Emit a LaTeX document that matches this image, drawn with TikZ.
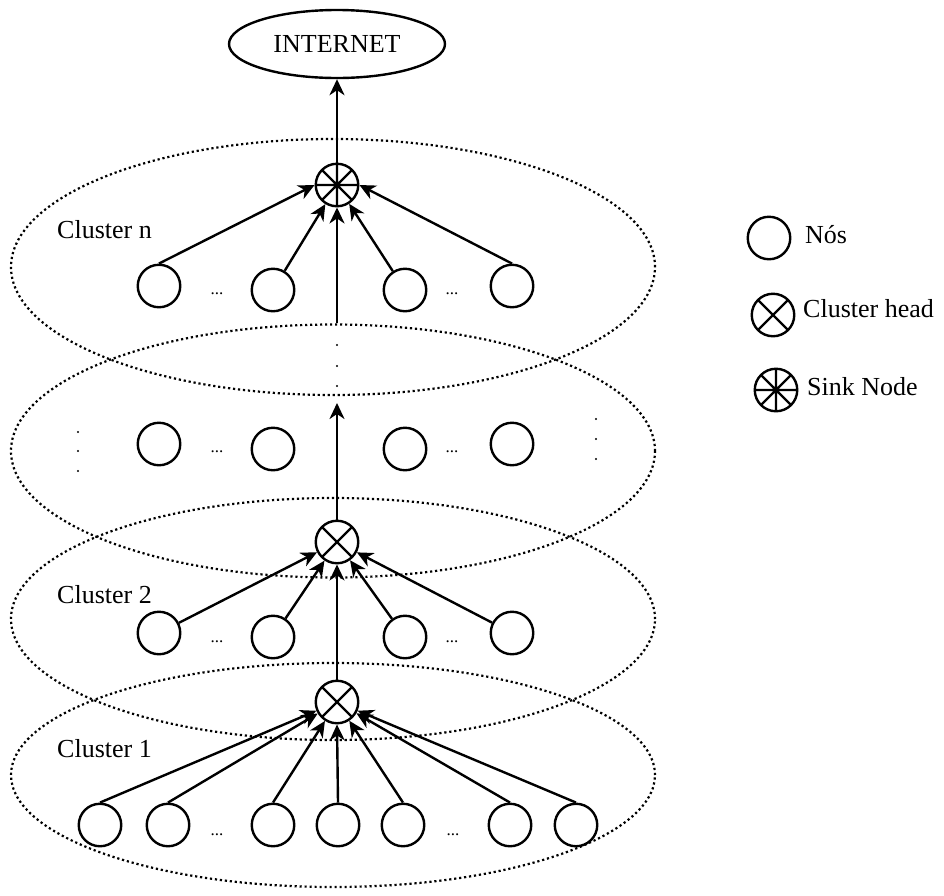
\documentclass[tikz,border=0pt]{standalone}
\usepackage{fontspec}
\setmainfont{Liberation Serif}
\usetikzlibrary{arrows.meta,shapes.geometric}
\begin{document}
\begin{tikzpicture}[x=1pt,y=-1pt,
  lbl/.style={inner sep=0pt, font=\fontsize{26}{30}\selectfont},
  nos/.style={circle, draw, line width=2.4pt, fill=white, minimum size=42.5pt, inner sep=0pt},
  chead/.style={nos, path picture={\draw[line width=2.4pt]
     (path picture bounding box.north west) -- (path picture bounding box.south east)
     (path picture bounding box.south west) -- (path picture bounding box.north east);}},
  sinknode/.style={nos, path picture={\draw[line width=2.4pt]
     (path picture bounding box.north west) -- (path picture bounding box.south east)
     (path picture bounding box.south west) -- (path picture bounding box.north east)
     (path picture bounding box.north) -- (path picture bounding box.south)
     (path picture bounding box.west) -- (path picture bounding box.east);}},
  cluster/.style={ellipse, draw, line width=2.2pt, dash pattern=on 2.2pt off 2.8pt,
     minimum width=644pt, inner sep=0pt},
  arr/.style={line width=2.4pt, -{Stealth[length=16pt,width=15pt,inset=5pt]}},
  ellip/.style={inner sep=0pt, font=\fontsize{17}{18}\selectfont},
]
\useasboundingbox (0,0) rectangle (944,895);

% cluster ellipses
\node[cluster, minimum height=256pt] (eN) at (333,267) {};
\node[cluster, minimum height=253pt] (eM) at (333,451) {};
\node[cluster, minimum height=242pt] (e2) at (333,619) {};
\node[cluster, minimum height=224pt] (e1) at (333,775) {};

% internet
\node[ellipse, draw, line width=2.4pt, minimum width=216pt, minimum height=68pt, inner sep=0pt,
      font=\fontsize{26}{30}\selectfont] (inet) at (337,44) {INTERNET};

% heads
\node[sinknode] (S) at (337,185) {};
\node[chead] (h2) at (337,542) {};
\node[chead] (h1) at (337,702) {};

% cluster n nodes
\node[nos] (n1) at (159,286) {};
\node[nos] (n2) at (273,290) {};
\node[nos] (n3) at (405,290) {};
\node[nos] (n4) at (512,286) {};
% middle nodes
\node[nos] (m1) at (159,444) {};
\node[nos] (m2) at (273,449) {};
\node[nos] (m3) at (405,449) {};
\node[nos] (m4) at (512,444) {};
% cluster 2 nodes
\node[nos] (b1) at (159,633) {};
\node[nos] (b2) at (273,637) {};
\node[nos] (b3) at (405,637) {};
\node[nos] (b4) at (512,633) {};
% cluster 1 nodes
\node[nos] (a1) at (100,825) {};
\node[nos] (a2) at (168,825) {};
\node[nos] (a3) at (273,825) {};
\node[nos] (a4) at (338,825) {};
\node[nos] (a5) at (403,825) {};
\node[nos] (a6) at (510,825) {};
\node[nos] (a7) at (576,825) {};

% ellipsis dots
\node[ellip, anchor=base] at (217,294) {...};
\node[ellip, anchor=base] at (452,294) {...};
\node[ellip, anchor=base] at (217,452) {...};
\node[ellip, anchor=base] at (452,452) {...};
\node[ellip, anchor=base] at (217,642) {...};
\node[ellip, anchor=base] at (452,642) {...};
\node[ellip, anchor=base] at (217,835) {...};
\node[ellip, anchor=base] at (453,835) {...};

% vertical dots
\foreach \yy in {345,366,386} \fill (337,\yy) circle (1.2pt);
\foreach \yy in {432,451,471} \fill (78,\yy) circle (1.2pt);
\foreach \yy in {419,439,459} \fill (596,\yy) circle (1.2pt);

% labels
\node[lbl, anchor=base west] at (57,238) {Cluster n};
\node[lbl, anchor=base west] at (57,603) {Cluster 2};
\node[lbl, anchor=base west] at (57,757) {Cluster 1};

% connectors
\coordinate (cNbot) at (337,323);
\coordinate (c2top) at (337,403);
\draw[arr] (S.north) -- (inet.south);
\draw[arr] (cNbot) -- (S.south);
\draw[arr] (h2.north) -- (c2top);
\draw[arr] (h1.north) -- (h2.south);

\draw[arr] (n1.north) -- (S.west);
\draw[arr] (n2) -- (S);
\draw[arr] (n3) -- (S);
\draw[arr] (n4.north) -- (S.east);

\draw[arr] (b1) -- (h2);
\draw[arr] (b2) -- (h2);
\draw[arr] (b3) -- (h2);
\draw[arr] (b4) -- (h2);

\draw[arr] (a1.north) -- (h1);
\draw[arr] (a2.north) -- (h1);
\draw[arr] (a3.north) -- (h1);
\draw[arr] (a4.north) -- (h1.south);
\draw[arr] (a5.north) -- (h1);
\draw[arr] (a6.north) -- (h1);
\draw[arr] (a7.north) -- (h1);

% legend
\node[nos] (lg1) at (769,238) {};
\node[chead] (lg2) at (773,315) {};
\node[sinknode] (lg3) at (776,390) {};
\node[lbl, anchor=base west] at (805,243) {Nós};
\node[lbl, anchor=base west] at (803,317) {Cluster head};
\node[lbl, anchor=base west] at (807,395) {Sink Node};
\end{tikzpicture}
\end{document}
